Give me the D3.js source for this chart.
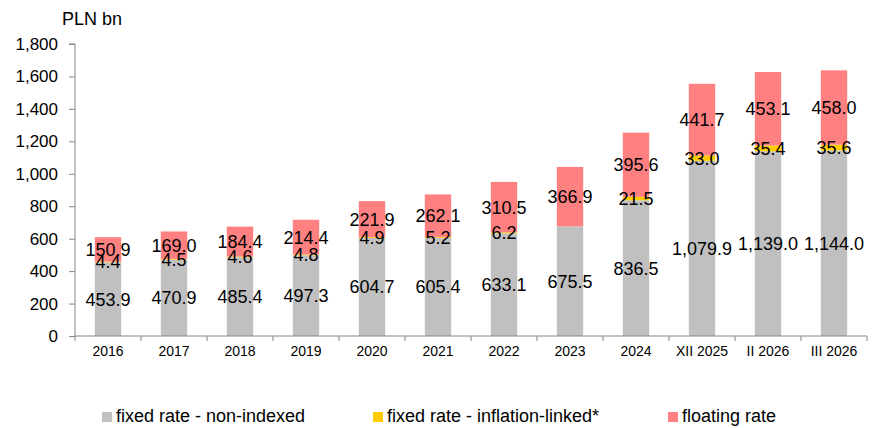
<!DOCTYPE html>
<html>
<head>
<meta charset="utf-8">
<script src="https://cdn.jsdelivr.net/npm/d3@7"></script>
<style>
  body { margin: 0; background: #fff; }
  svg { display: block; font-family: "Liberation Sans", Arial, sans-serif; }
</style>
</head>
<body>
<div id="container"></div>
<script>
const categories = ["2016", "2017", "2018", "2019", "2020", "2021", "2022", "2023", "2024", "XII 2025", "II 2026", "III 2026"];
const fixedNonIndexed = [453.9, 470.9, 485.4, 497.3, 604.7, 605.4, 633.1, 675.5, 836.5, 1079.9, 1139.0, 1144.0];
const inflationLinked = [4.4, 4.5, 4.6, 4.8, 4.9, 5.2, 6.2, null, 21.5, 33.0, 35.4, 35.6];
const floatingRate = [150.9, 169.0, 184.4, 214.4, 221.9, 262.1, 310.5, 366.9, 395.6, 441.7, 453.1, 458.0];
const yTicks = [0, 200, 400, 600, 800, 1000, 1200, 1400, 1600, 1800];

const seriesNames = ["fixed rate - non-indexed", "fixed rate - inflation-linked*", "floating rate"];
const colors = ["#c0c0c0", "#ffcc00", "#ff8080"];

const width = 881, height = 428;
const plotLeft = 75, plotRight = 867, plotTop = 44, plotBottom = 336;

const svg = d3.select("#container").append("svg")
  .attr("width", width)
  .attr("height", height);

const x = d3.scaleBand().domain(categories).range([plotLeft, plotRight]).paddingInner(0.6).paddingOuter(0.3);
const xGrid = d3.scaleBand().domain(categories).range([plotLeft, plotRight]);
const y = d3.scaleLinear().domain([0, 1800]).range([plotBottom, plotTop]);

const rows = categories.map((c, i) => ({
  cat: c,
  fixed: fixedNonIndexed[i],
  infl: inflationLinked[i] || 0,
  float: floatingRate[i]
}));
const stack = d3.stack().keys(["fixed", "infl", "float"])(rows);

// bars
stack.forEach((layer, k) => {
  svg.append("g").selectAll("rect")
    .data(layer)
    .enter().append("rect")
    .attr("x", d => x(d.data.cat))
    .attr("width", x.bandwidth())
    .attr("y", d => y(d[1]))
    .attr("height", d => y(d[0]) - y(d[1]))
    .attr("fill", colors[k]);
});

// labels
const fmt = d3.format(",.1f");
const rawVals = [fixedNonIndexed, inflationLinked, floatingRate];
stack.forEach((layer, k) => {
  svg.append("g").selectAll("text")
    .data(layer.filter((d, i) => rawVals[k][i] != null))
    .enter().append("text")
    .attr("x", d => x(d.data.cat) + x.bandwidth() / 2)
    .attr("y", d => (y(d[0]) + y(d[1])) / 2)
    .attr("dy", "0.36em")
    .attr("text-anchor", "middle")
    .attr("font-size", "18px")
    .attr("fill", "#000")
    .text(d => fmt(d[1] - d[0]));
});

// y axis
const yAxis = svg.append("g")
  .attr("transform", `translate(${plotLeft},0)`)
  .call(d3.axisLeft(y).tickValues(yTicks).tickFormat(d3.format(",")).tickSize(6).tickPadding(11));
yAxis.select(".domain").attr("stroke", "#868686").attr("d", `M-6,${plotTop}H0V${plotBottom}`);
yAxis.selectAll(".tick line").attr("stroke", "#868686");
yAxis.selectAll(".tick text").attr("font-size", "17px").attr("fill", "#000").attr("font-family", "Liberation Sans, Arial, sans-serif");

// x axis
const xAxis = svg.append("g")
  .attr("transform", `translate(0,${plotBottom})`)
  .call(d3.axisBottom(xGrid).tickSize(0).tickPadding(10));
xAxis.select(".domain").attr("stroke", "#868686").attr("d", `M${plotLeft},0H${plotRight}`);
xAxis.selectAll(".tick text").attr("font-size", "14px").attr("fill", "#000").attr("font-family", "Liberation Sans, Arial, sans-serif");
xAxis.selectAll("line.sep")
  .data(categories.map(c => xGrid(c)).concat([plotRight]))
  .enter().append("line")
  .attr("class", "sep")
  .attr("x1", d => d).attr("x2", d => d)
  .attr("y1", 0).attr("y2", 5)
  .attr("stroke", "#868686");

// unit
svg.append("text")
  .attr("x", 62)
  .attr("y", 25)
  .attr("font-size", "18px")
  .text("PLN bn");

// legend
const legendX = [102, 373, 668];
const legend = svg.append("g").selectAll("g")
  .data(seriesNames)
  .enter().append("g")
  .attr("transform", (d, i) => `translate(${legendX[i]},0)`);
legend.append("rect")
  .attr("x", 0).attr("y", 412)
  .attr("width", 10).attr("height", 10)
  .attr("fill", (d, i) => colors[i]);
legend.append("text")
  .attr("x", 14)
  .attr("y", 422)
  .attr("font-size", "18px")
  .text(d => d);
</script>
</body>
</html>
